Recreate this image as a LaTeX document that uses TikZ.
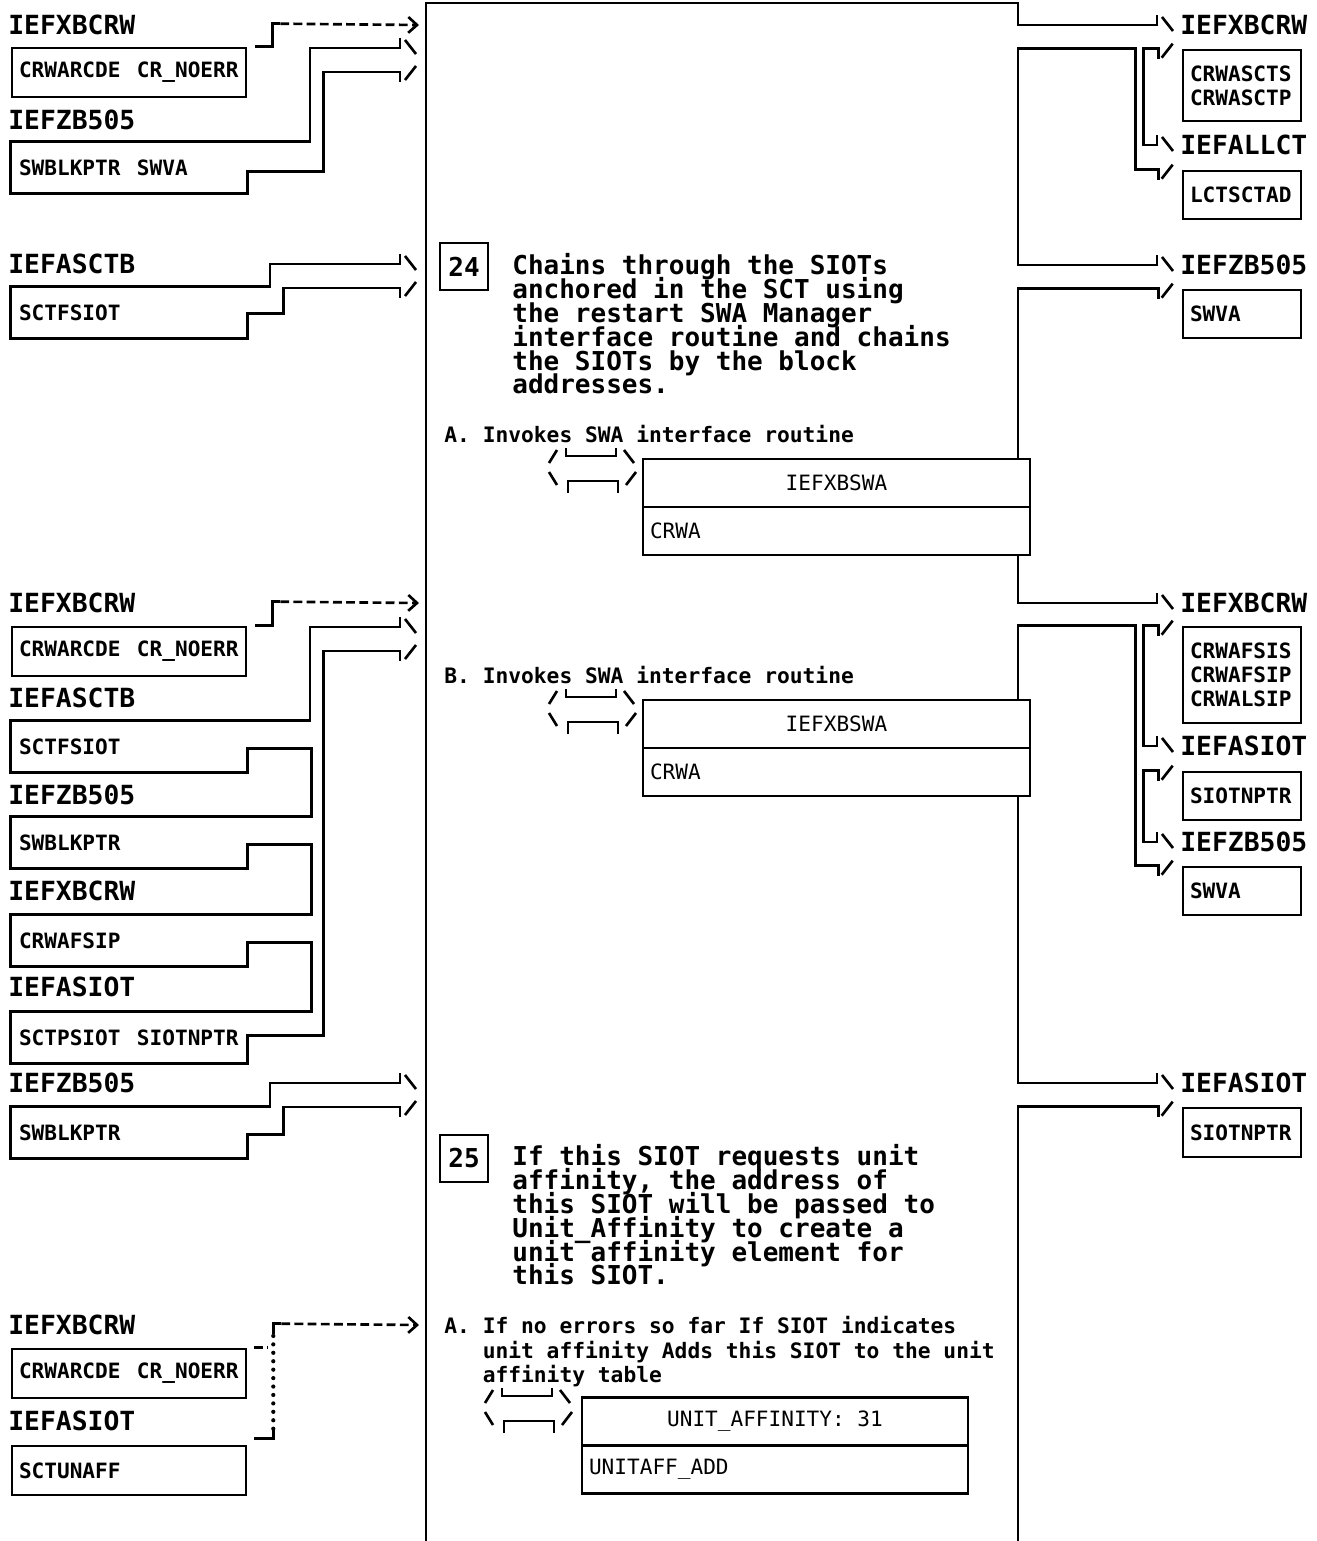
\documentclass[tikz,border=0pt]{standalone}
\usepackage{fontspec}
\usepackage{tikz}
\usetikzlibrary{positioning,calc,arrows.meta}
\newfontfamily\hipomono{DejaVu Sans Mono}
\newcommand{\lblfont}{\hipomono\bfseries\fontsize{15}{17}\selectfont}
\newcommand{\boxfont}{\hipomono\bfseries\fontsize{12}{13.6}\selectfont}
\newcommand{\modfont}{\hipomono\fontsize{12}{13.6}\selectfont}
\newcommand{\stepfont}{\hipomono\bfseries\fontsize{14.8}{13.6}\selectfont\lineskiplimit=-\maxdimen}
\newcommand{\itemfont}{\hipomono\bfseries\fontsize{12.1}{13.9}\selectfont\lineskiplimit=-\maxdimen}
\newcommand{\boxgap}{\hspace{0.78em}}

% HIPO call symbol  /|__|\  over  \|--|/
\newcommand{\hipocall}[2]{%
	\begin{scope}[shift={(#1,#2)}]
		\draw[hline] (1,7) -- (9,-6);
		\draw[hline] (18,-8) -- (18,0) -- (68,0) -- (68,-8);
		\draw[hline] (76,-6) -- (86,7);
		\draw[hline] (1,16) -- (9,29);
		\draw[hline] (20,37) -- (20,25) -- (70,25) -- (70,37);
		\draw[hline] (78,29) -- (88,16);
	\end{scope}}

\begin{document}
\begin{tikzpicture}[
	x=0.02cm, y=-0.02cm,
	% Line styles
	hline/.style={line width=1.5pt},
	dline/.style={line width=1.5pt, dash pattern=on 5pt off 2.5pt},
	dotline/.style={line width=2.4pt, line cap=round, dash pattern=on 0pt off 4.8pt},
	flowtip/.style={-{Straight Barb[length=5pt,width=9pt]}},
	% Node styles
	lbl/.style={
		font=\lblfont,
		anchor=west,
		inner sep=0pt
	},
	inbox/.style={
		rectangle,
		draw,
		line width=1.5pt,
		font=\boxfont,
		minimum height=0.98cm,
		text width=4.40cm,
		inner xsep=0.14cm,
		inner ysep=0pt,
		align=left
	},
	outbox/.style={
		rectangle,
		draw,
		line width=1.5pt,
		font=\boxfont,
		text width=2.08cm,
		inner xsep=0.14cm,
		inner ysep=0pt,
		align=left
	},
	modhead/.style={
		rectangle,
		draw,
		fill=white,
		line width=1.5pt,
		outer sep=0pt,
		font=\modfont,
		minimum width=7.74cm,
		minimum height=0.96cm,
		inner sep=0pt
	},
	modbody/.style={
		rectangle,
		draw,
		fill=white,
		line width=1.5pt,
		outer sep=0pt,
		font=\modfont,
		text width=7.46cm,
		inner xsep=0.14cm,
		inner ysep=0pt,
		minimum height=0.96cm,
		align=left
	},
	stepnum/.style={
		rectangle,
		draw,
		line width=1.5pt,
		font=\stepfont,
		minimum width=0.96cm,
		minimum height=0.94cm,
		inner sep=0pt
	},
	steptxt/.style={
		font=\stepfont,
		anchor=north west,
		inner sep=0pt,
		align=left
	},
	itemtxt/.style={
		font=\itemfont,
		anchor=west,
		inner sep=0pt,
		align=left
	}
	]
	
	\useasboundingbox (0,0) rectangle (1317,1541);
	
	% Process box corners
	\coordinate (pnw) at (426,3);
	\coordinate (pne) at (1018,3);
	\coordinate (psw) at (426,1541);
	\coordinate (pse) at (1018,1541);
	
	% ---------------- Inputs ----------------
	\node[lbl] (ll1) at (8,25) {IEFXBCRW};
	\node[inbox] (crw1) at (129,72.5) {CRWARCDE\boxgap CR\_NOERR};
	\node[lbl] (ll2) at (8,120) {IEFZB505};
	\node[inbox, draw=none] (swb1) at (129,167.5) {SWBLKPTR\boxgap SWVA};
	
	\node[lbl] (ll3) at (8,264) {IEFASCTB};
	\node[inbox, draw=none] (sctf1) at (129,312.5) {SCTFSIOT};
	
	\node[lbl] (ll4) at (8,603) {IEFXBCRW};
	\node[inbox] (crw2) at (129,651.5) {CRWARCDE\boxgap CR\_NOERR};
	\node[lbl] (ll5) at (8,698) {IEFASCTB};
	\node[inbox, draw=none] (sctf2) at (129,746.5) {SCTFSIOT};
	\node[lbl] (ll6) at (8,795) {IEFZB505};
	\node[inbox, draw=none] (swb2) at (129,842.5) {SWBLKPTR};
	\node[lbl] (ll7) at (8,891) {IEFXBCRW};
	\node[inbox, draw=none] (crwaf) at (129,940.5) {CRWAFSIP};
	\node[lbl] (ll8) at (8,987) {IEFASIOT};
	\node[inbox, draw=none] (sctp) at (129,1037.5) {SCTPSIOT\boxgap SIOTNPTR};
	
	\node[lbl] (ll9) at (8,1083) {IEFZB505};
	\node[inbox, draw=none] (swb3) at (129,1132.5) {SWBLKPTR};
	
	\node[lbl] (ll10) at (8,1325) {IEFXBCRW};
	\node[inbox] (crw3) at (129,1373.5) {CRWARCDE\boxgap CR\_NOERR};
	\node[lbl] (ll11) at (8,1421) {IEFASIOT};
	\node[inbox] (sctu) at (129,1470.5) {SCTUNAFF};
	
	% Input arrow heads
	\coordinate (hi1t) at (400,48);
	\coordinate (hi1b) at (400,72);
	\coordinate (hi2t) at (400,264);
	\coordinate (hi2b) at (400,288);
	\coordinate (hi3t) at (400,627);
	\coordinate (hi3b) at (400,651);
	\coordinate (hi4t) at (400,1083);
	\coordinate (hi4b) at (400,1107);
	\coordinate (d1) at (419,25);
	\coordinate (d2) at (419,603);
	\coordinate (d3) at (419,1325);
	
	% Wide input arrows
	\draw[hline] ($(hi1t)+(0,-10)$) -- (hi1t) -- ++(-90,0) |- (swb1.north west) -- (swb1.south west) -- (swb1.south east) -- ++(0,-22) -- ++(76,0) |- (hi1b) -- ++(0,10);
	\draw[hline] ($(hi2t)+(0,-10)$) -- (hi2t) -- ++(-130,0) |- (sctf1.north west) -- (sctf1.south west) -- (sctf1.south east) -- ++(0,-25) -- ++(36,0) |- (hi2b) -- ++(0,10);
	\draw[hline] ($(hi3t)+(0,-10)$) -- (hi3t) -- ++(-90,0) |- (sctf2.north west) -- (sctf2.south west) -- (sctf2.south east) -- ++(0,-24) -- ++(64,0)
		|- (swb2.north west) -- (swb2.south west) -- (swb2.south east) -- ++(0,-24) -- ++(64,0)
		|- (crwaf.north west) -- (crwaf.south west) -- (crwaf.south east) -- ++(0,-24) -- ++(64,0)
		|- (sctp.north west) -- (sctp.south west) -- (sctp.south east) -- ++(0,-28) -- ++(76,0) |- (hi3b) -- ++(0,10);
	\draw[hline] ($(hi4t)+(0,-10)$) -- (hi4t) -- ++(-130,0) |- (swb3.north west) -- (swb3.south west) -- (swb3.south east) -- ++(0,-24) -- ++(36,0) |- (hi4b) -- ++(0,10);
	
	\draw[hline] ($(hi1t)+(5,-8)$) -- ++(11,14);
	\draw[hline] ($(hi1b)+(5,8)$) -- ++(11,-14);
	\draw[hline] ($(hi2t)+(5,-8)$) -- ++(11,14);
	\draw[hline] ($(hi2b)+(5,8)$) -- ++(11,-14);
	\draw[hline] ($(hi3t)+(5,-8)$) -- ++(11,14);
	\draw[hline] ($(hi3b)+(5,8)$) -- ++(11,-14);
	\draw[hline] ($(hi4t)+(5,-8)$) -- ++(11,14);
	\draw[hline] ($(hi4b)+(5,8)$) -- ++(11,-14);
	
	% Dashed test arrows
	\draw[hline] ($(crw1.north east)+(8,0)$) -- ++(17,0) |- ++(8,-23) coordinate (d1s);
	\draw[dline, flowtip] (d1s) -- (d1);
	\draw[hline] ($(crw2.north east)+(8,0)$) -- ++(17,0) |- ++(8,-24) coordinate (d2s);
	\draw[dline, flowtip] (d2s) -- (d2);
	\draw[dline] ($(crw3.north east)+(7,0)$) -- ++(14,0);
	\draw[hline] ($(sctu.north east)+(7,-6)$) -- ++(19,0) -- ++(0,-10) coordinate (c5b);
	\draw[dotline] (c5b) -- ++(0,-95) coordinate (c5c);
	\draw[hline] (c5c) -- ++(0,-10) -- ++(8,0) coordinate (d3s);
	\draw[dline, flowtip] (d3s) -- (d3);
	
	% ---------------- Outputs ----------------
	\node[lbl] (rl1) at (1180,25) {IEFXBCRW};
	\node[outbox, minimum height=1.42cm] (rcrwas) at (1242,85.5) {CRWASCTS\\CRWASCTP};
	\node[lbl] (rl2) at (1180,145) {IEFALLCT};
	\node[outbox, minimum height=0.96cm] (rlcts) at (1242,195) {LCTSCTAD};
	\node[lbl] (rl3) at (1180,265) {IEFZB505};
	\node[outbox, minimum height=0.96cm] (rswva1) at (1242,314) {SWVA};
	\node[lbl] (rl4) at (1180,603) {IEFXBCRW};
	\node[outbox, minimum height=1.92cm] (rcrwaf) at (1242,675) {CRWAFSIS\\CRWAFSIP\\CRWALSIP};
	\node[lbl] (rl5) at (1180,746) {IEFASIOT};
	\node[outbox, minimum height=0.96cm] (rsiot1) at (1242,796) {SIOTNPTR};
	\node[lbl] (rl6) at (1180,842) {IEFZB505};
	\node[outbox, minimum height=0.96cm] (rswva2) at (1242,891) {SWVA};
	\node[lbl] (rl7) at (1180,1083) {IEFASIOT};
	\node[outbox, minimum height=0.98cm] (rsiot2) at (1242,1132.5) {SIOTNPTR};
	
	% Output arrow heads
	\coordinate (ho1) at ($(rl1.west)+(-23,0)$);
	\coordinate (ho2) at ($(rl2.west)+(-23,0)$);
	\coordinate (ho3) at ($(rl3.west)+(-23,0)$);
	\coordinate (ho4) at ($(rl4.west)+(-23,0)$);
	\coordinate (ho5) at ($(rl5.west)+(-23,0)$);
	\coordinate (ho6) at ($(rl6.west)+(-23,0)$);
	\coordinate (ho7) at ($(rl7.west)+(-23,0)$);
	\coordinate (hb1) at ($(rcrwas.north west)+(-23,0)$);
	\coordinate (hb2) at ($(rlcts.north west)+(-23,0)$);
	\coordinate (hb3) at ($(rswva1.north west)+(-23,0)$);
	\coordinate (hb4) at ($(rcrwaf.north west)+(-23,0)$);
	\coordinate (hb5) at ($(rsiot1.north west)+(-23,0)$);
	\coordinate (hb6) at ($(rswva2.north west)+(-23,0)$);
	\coordinate (hb7) at ($(rsiot2.north west)+(-23,0)$);
	
	% Process box with wide output arrows
	\draw[hline] (psw) -- (pnw) -- (pne) -- (ho1 -| pne) -- (ho1) -- ++(0,-10);
	\draw[hline] ($(hb2)+(0,10)$) -- (hb2) -- ++(-23,0) |- (hb1 -| pne) -- (ho3 -| pne) -- (ho3) -- ++(0,-10);
	\draw[hline] ($(hb1)+(0,10)$) -- (hb1) -- ++(-15,0) |- (ho2) -- ++(0,-10);
	\draw[hline] ($(hb3)+(0,10)$) -- (hb3) -- (hb3 -| pne) -- (ho4 -| pne) -- (ho4) -- ++(0,-10);
	\draw[hline] ($(hb6)+(0,10)$) -- (hb6) -- ++(-23,0) |- (hb4 -| pne) -- (ho7 -| pne) -- (ho7) -- ++(0,-10);
	\draw[hline] ($(hb4)+(0,10)$) -- (hb4) -- ++(-15,0) |- (ho5) -- ++(0,-10);
	\draw[hline] ($(hb5)+(0,10)$) -- (hb5) -- ++(-15,0) |- (ho6) -- ++(0,-10);
	\draw[hline] ($(hb7)+(0,10)$) -- (hb7) -- (hb7 -| pne) -- (pse);
	
	\draw[hline] ($(ho1)+(5,-8)$) -- ++(11,14);
	\draw[hline] ($(ho2)+(5,-8)$) -- ++(11,14);
	\draw[hline] ($(ho3)+(5,-8)$) -- ++(11,14);
	\draw[hline] ($(ho4)+(5,-8)$) -- ++(11,14);
	\draw[hline] ($(ho5)+(5,-8)$) -- ++(11,14);
	\draw[hline] ($(ho6)+(5,-8)$) -- ++(11,14);
	\draw[hline] ($(ho7)+(5,-8)$) -- ++(11,14);
	\draw[hline] ($(hb1)+(3,9)$) -- ++(11,-14);
	\draw[hline] ($(hb2)+(3,9)$) -- ++(11,-14);
	\draw[hline] ($(hb3)+(3,9)$) -- ++(11,-14);
	\draw[hline] ($(hb4)+(3,9)$) -- ++(11,-14);
	\draw[hline] ($(hb5)+(3,9)$) -- ++(11,-14);
	\draw[hline] ($(hb6)+(3,9)$) -- ++(11,-14);
	\draw[hline] ($(hb7)+(3,9)$) -- ++(11,-14);
	
	% ---------------- Process ----------------
	% Step 24
	\node[stepnum] (n24) at (464,266.5) {24};
	\node[steptxt] (t24) at (512,253) {Chains through the SIOTs\\anchored in the SCT using\\the restart SWA Manager\\interface routine and chains\\the SIOTs by the block\\addresses.};
	
	\node[itemtxt] (a24) at (444,434) {A. Invokes SWA interface routine};
	\hipocall{548}{456}
	\node[modhead] (swa1) at (836.5,483) {IEFXBSWA};
	\node[modbody, below=0pt of swa1] (crwa1) {CRWA};
	
	\node[itemtxt] (b24) at (444,675) {B. Invokes SWA interface routine};
	\hipocall{548}{697}
	\node[modhead] (swa2) at (836.5,724) {IEFXBSWA};
	\node[modbody, below=0pt of swa2] (crwa2) {CRWA};
	
	% Step 25
	\node[stepnum] (n25) at (464,1158.5) {25};
	\node[steptxt] (t25) at (512,1144) {If this SIOT requests unit\\affinity, the address of\\this SIOT will be passed to\\Unit\_Affinity to create a\\unit affinity element for\\this SIOT.};
	
	\node[itemtxt, anchor=north west] (a25) at (444,1316) {A. If no errors so far If SIOT indicates\\\hphantom{A. }unit affinity Adds this SIOT to the unit\\\hphantom{A. }affinity table};
	\hipocall{484}{1396}
	\node[modhead, minimum width=7.72cm] (uaff) at (775,1421.5) {UNIT\_AFFINITY: 31};
	\node[modbody, text width=7.44cm, below=0pt of uaff] (uadd) {UNITAFF\_ADD};
	
\end{tikzpicture}
\end{document}
